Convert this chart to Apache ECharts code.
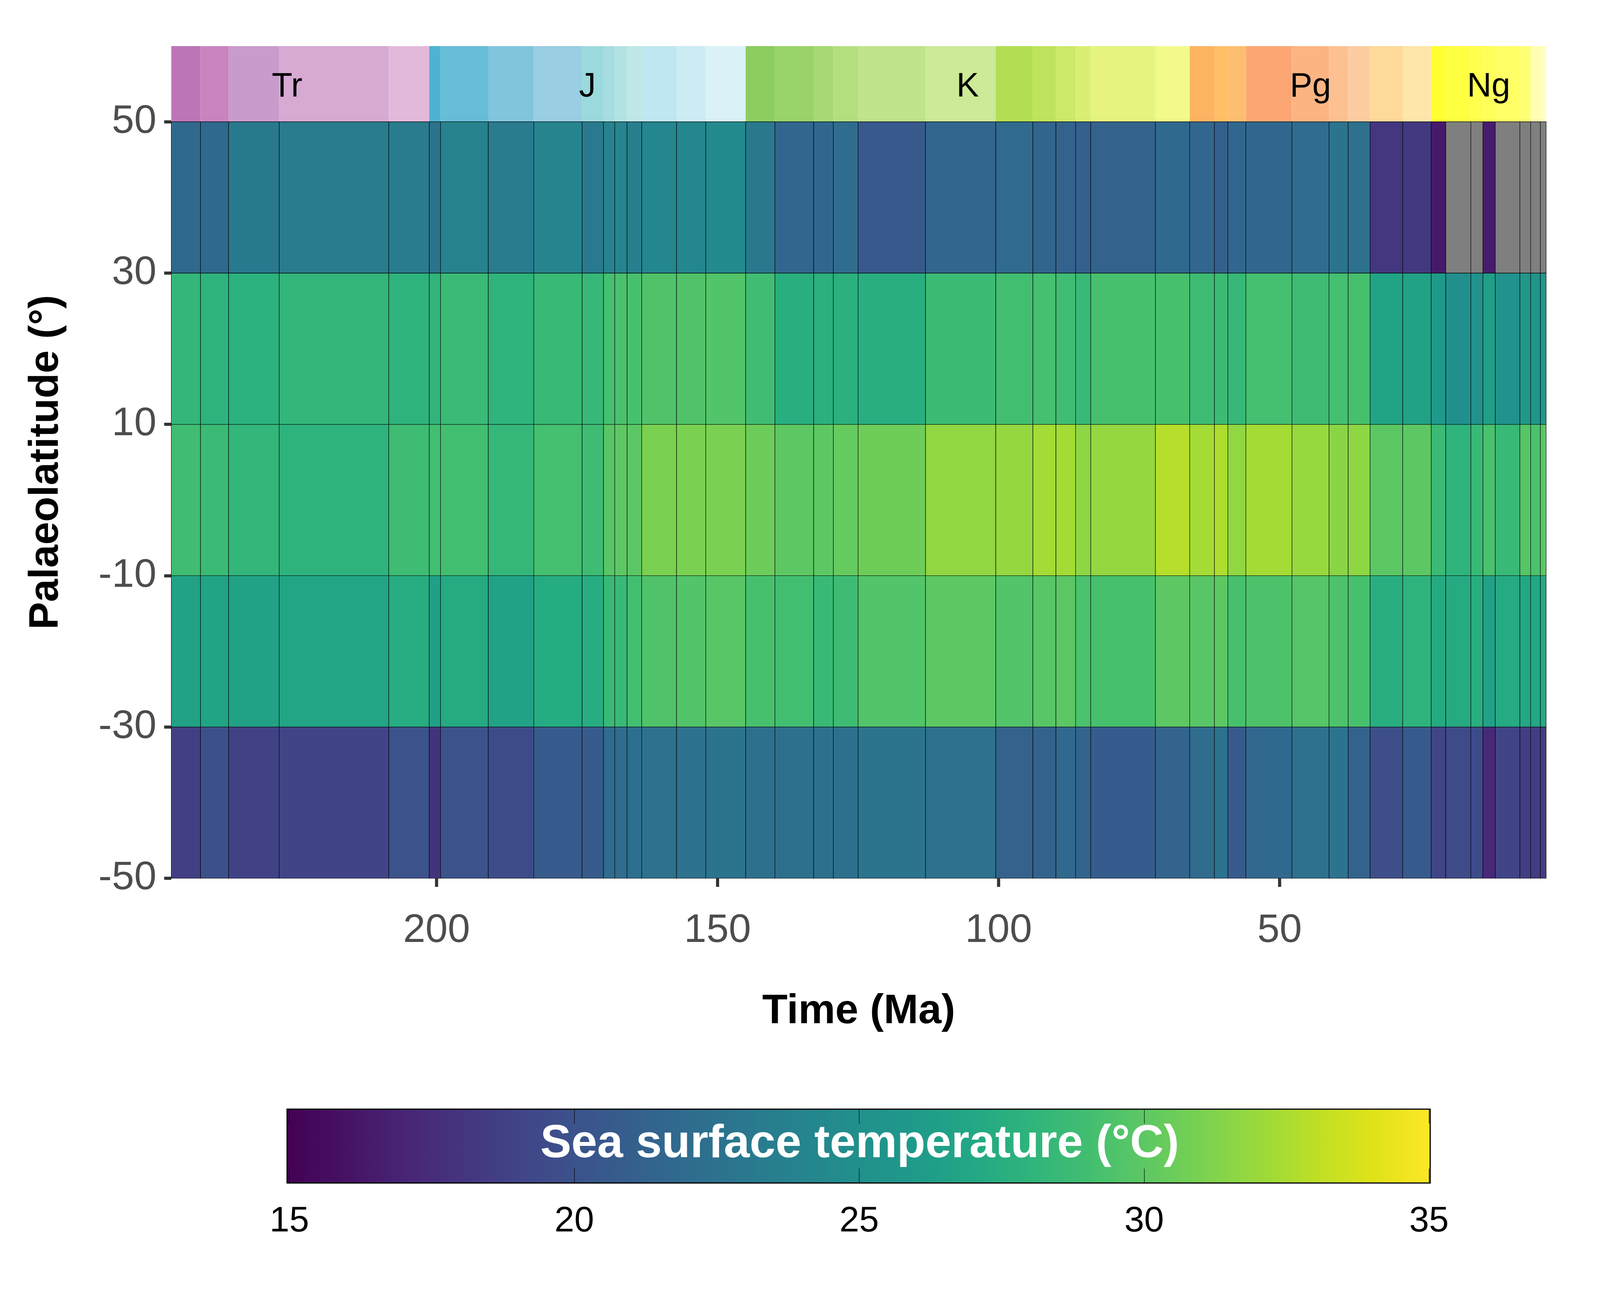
<!DOCTYPE html>
<html>
<head>
<meta charset="utf-8">
<style>html,body{margin:0;padding:0;background:#fff;overflow:hidden}#c{width:100vw;height:100vh}</style>
<script src="https://cdn.jsdelivr.net/npm/echarts@6/dist/echarts.min.js"></script>
</head>
<body>
<div id="c"></div>
<script>
// Stage boundaries (Ma), oldest to youngest
const stageEdges = [247.2,242,237,228,208.5,201.3,199.3,190.8,182.7,174.1,170.3,168.3,166.1,163.5,157.3,152.1,145,139.8,132.9,129.4,125,113,100.5,93.9,89.8,86.3,83.6,72.1,66,61.6,59.2,56,47.8,41.2,37.8,33.9,28.1,23.03,20.44,15.97,13.82,11.63,7.25,5.333,3.6,2.58];
const stageColors = ['#BC75B7','#C983BF','#C99BCB','#D6AAD3','#E3B9DB','#4EB3D3','#67BCD8','#80C5DD','#99CEE3','#9AD9DD','#A6DDE0','#B3E2E3','#BFE7E5','#BFE7F1','#CCECF4','#D9F1F7','#8CCD60','#99D36A','#A6D975','#B3DF7F','#BFE48A','#CCEA97','#B3DE53','#BFE35D','#CCE968','#D9EF74','#E6F47F','#F2FA8C','#FDB462','#FEBF65','#FDBF6F','#FCA773','#FCB482','#FDC091','#FDCDA1','#FED99A','#FEE6AA','#FFFF33','#FFFF41','#FFFF4D','#FFFF59','#FFFF66','#FFFF73','#FFFFB3','#FFFFBF'];
// Periods
const periodNames = ['Tr','J','K','Pg','Ng'];
const periodStart = [251.9,201.3,145,66,23.03];
const periodEnd = [201.3,145,66,23.03,2.58];
// Latitude band edges
const latEdges = [-50,-30,-10,10,30,50];
// Sea surface temperature per stage, one array per latitude band (null = no data)
const sstS50 = [18.7,19.9,18.9,19,20,17.9,20,19.6,20.7,20.7,22,22,22.2,22.4,22.5,22.6,22.3,22.3,22.3,22.3,22.7,22.4,21.2,21.3,21.7,21.4,20.8,21.4,22,22.5,20.5,21.7,22.4,22.7,21.3,19.7,20.6,19,19.5,19.5,17.3,19,18.6,18.5,18.5];
const sstS30 = [26.6,26.7,26.6,26.8,27.4,26.4,27.2,26.6,27.3,27.4,28.5,28.5,29,29.5,29.6,29.8,29.2,29,28.5,28.8,29.6,30,29.6,29.8,29.9,29.3,29.2,30,29.8,30,29.2,29.4,29.7,29.4,29.2,27.5,27.9,27.2,27.2,27.5,26.5,27.2,27,27,27.1];
const sstEq = [28.9,28.6,28.2,27.9,28.8,29,29,28.3,29.1,28.8,29.8,30,29.9,31,31,31,30.5,30,30,30.3,30.6,31.7,31.8,32.3,32.3,31.6,31.8,32.8,32.3,32.6,31.7,32.3,31.9,31.5,31.6,29.9,30,28.6,28,28.5,29.3,28.5,29.7,29.3,29.9];
const sstN30 = [28.2,27.9,27.8,28.2,27.9,28.1,28.6,28,28.5,28.4,29.1,29.3,29.2,29.5,29.5,29.6,28.9,27.5,27.7,27.7,27.5,28.7,29,29.1,28.9,28.5,29.2,29.2,28.8,28.7,28.4,29.1,28.8,29.1,29.2,26.7,26.6,26,25,25.2,26.3,25.2,25.8,25.5,25.8];
const sstN50 = [21.8,21.8,23.1,23.3,23.3,22.6,23.9,23.3,24,23.2,23.9,24,23.6,24.2,24.2,24.5,23,21.5,21.6,22,20.5,21.5,21.9,21.4,21.3,21,21.3,21.8,21.5,21.1,21.6,21.6,22,22.6,22.4,18.1,18.3,16.4,null,null,16.5,null,null,null,null];
// Axis ticks
const ageTicks = [200,150,100,50];
const latTicks = [-50,-30,-10,10,30,50];
const sstTicks = [15,20,25,30,35];
const sstLimits = [15,35];
const barExtent = [14.96,35.02];
const stripLat = [50,60];
const stripLabelLat = 54.55;
const viridis = ['#440154','#482475','#414487','#3B528B','#355F8D','#2F6C8E','#2A788E','#25848E','#21908C','#1F9A8A','#22A884','#2FB47C','#42BE71','#5DC863','#7AD151','#9AD93C','#BDDF26','#DFE318','#FDE725'];
const viridisAt = [0,0.1,0.2,0.25,0.3,0.35,0.4,0.45,0.5,0.55,0.6,0.65,0.7,0.75,0.8,0.85,0.9,0.95,1];

const FONT = 'Liberation Sans';
const bands = [sstS50,sstS30,sstEq,sstN30,sstN50];

// The layout was measured on a 4960x3307 reference. The browser window may be
// clamped narrower (observed: 4096 wide), so positions follow the real window.
const W = window.innerWidth, H = window.innerHeight;
const sx = W/4960, sy = H/3307, fs = Math.sqrt(sx*sy);
const X = v => v*sx, Y = v => v*sy, F = v => v*fs;
// keeps a label's centre in place when its font shrinks
const recentre = size => (size - F(size))/2;

function colourOf(v){
  const t = Math.max(0,Math.min(1,(v-sstLimits[0])/(sstLimits[1]-sstLimits[0])));
  let i = 0;
  while(i < viridisAt.length-2 && t > viridisAt[i+1]) i++;
  const f = (t-viridisAt[i])/(viridisAt[i+1]-viridisAt[i]);
  return echarts.color.lerp(f,[viridis[i],viridis[i+1]]);
}

const cells = [];
bands.forEach((vals,j)=>vals.forEach((v,i)=>{
  cells.push([stageEdges[i],stageEdges[i+1],latEdges[j],latEdges[j+1],v===null?NaN:v]);
}));
const stripCells = stageColors.map((c,i)=>[stageEdges[i],stageEdges[i+1]]);
const periodLabels = periodNames.map((n,i)=>[(periodStart[i]+periodEnd[i])/2,stripLabelLat]);

function rectFrom(api){
  const a = api.coord([api.value(0),api.value(3)]);
  const b = api.coord([api.value(1),api.value(2)]);
  return {x:Math.min(a[0],b[0]),y:Math.min(a[1],b[1]),width:Math.abs(a[0]-b[0]),height:Math.abs(a[1]-b[1])};
}

const stops = viridis.map((c,i)=>({offset:(sstLimits[0]+viridisAt[i]*(sstLimits[1]-sstLimits[0])-barExtent[0])/(barExtent[1]-barExtent[0]),color:c}));

const option = {
  animation:false,
  backgroundColor:'#ffffff',
  textStyle:{fontFamily:FONT},
  title:[{
    text:'Sea surface temperature (°C)',
    left:X(2659), top:Y(2859)+recentre(131), textAlign:'center',
    textStyle:{color:'#ffffff',fontFamily:FONT,fontWeight:'bold',fontSize:F(131)}
  }],
  grid:[
    {left:X(531),top:Y(118),width:X(4262),height:Y(2130),containLabel:false},
    {left:X(897),top:Y(2839),width:X(3533),height:Y(189),containLabel:false}
  ],
  xAxis:[
    {gridIndex:0,type:'value',inverse:true,min:stageEdges[stageEdges.length-1],max:stageEdges[0],
     name:'Time (Ma)',nameLocation:'middle',nameGap:Y(283)+recentre(117),
     nameTextStyle:{fontFamily:FONT,fontWeight:'bold',fontSize:F(117),color:'#000'},
     axisLine:{show:false},splitLine:{show:false},
     // axisTick.customValues drops its marks on an inverse axis, so these ticks come from the 'age ticks' series
     axisTick:{show:false},
     axisLabel:{show:true,fontFamily:FONT,fontSize:F(113),color:'#4D4D4D',margin:Y(78)+recentre(113),customValues:ageTicks,formatter:v=>String(v)}},
    {gridIndex:1,type:'value',min:sstLimits[0],max:sstLimits[1],position:'bottom',z:10,
     axisLine:{show:false},splitLine:{show:false},
     axisTick:{show:true,inside:true,length:Y(37),lineStyle:{color:'#000',width:1.2},customValues:sstTicks},
     axisLabel:{show:true,fontFamily:FONT,fontSize:F(100),color:'#000',margin:Y(49)+recentre(100),customValues:sstTicks,formatter:v=>String(v)}},
    {gridIndex:1,type:'value',min:sstLimits[0],max:sstLimits[1],position:'top',z:10,
     axisLine:{show:false},splitLine:{show:false},
     axisTick:{show:true,inside:true,length:Y(37),lineStyle:{color:'#000',width:1.2},customValues:sstTicks},
     axisLabel:{show:false}}
  ],
  yAxis:[
    {gridIndex:0,type:'value',min:latEdges[0],max:stripLat[1],
     name:'Palaeolatitude (°)',nameLocation:'middle',nameRotate:90,nameGap:X(324),
     nameTextStyle:{fontFamily:FONT,fontWeight:'bold',fontSize:F(116),color:'#000'},
     axisLine:{show:false},splitLine:{show:false},
     axisTick:{show:true,length:X(22),lineStyle:{color:'#333333',width:8},customValues:latTicks},
     axisLabel:{show:true,fontFamily:FONT,fontSize:F(113),color:'#4D4D4D',margin:X(46),customValues:latTicks,formatter:v=>String(v)}},
    {gridIndex:1,type:'value',min:0,max:1,show:false}
  ],
  series:[
    {type:'custom',name:'stages',xAxisIndex:0,yAxisIndex:0,z:2,clip:false,silent:true,
     data:stripCells,encode:{x:[0,1]},
     renderItem:(p,api)=>{
       const a=api.coord([api.value(0),stripLat[1]]), b=api.coord([api.value(1),stripLat[0]]);
       return {type:'rect',shape:{x:Math.min(a[0],b[0]),y:a[1],width:Math.abs(a[0]-b[0]),height:b[1]-a[1]},
               style:{fill:stageColors[p.dataIndex]}};
     }},
    {type:'custom',name:'Sea surface temperature',xAxisIndex:0,yAxisIndex:0,z:3,clip:false,silent:true,
     data:cells,encode:{x:[0,1],y:[2,3]},
     renderItem:(p,api)=>{
       const v=api.value(4);
       return {type:'rect',shape:rectFrom(api),
               style:{fill:isNaN(v)?'#7F7F7F':colourOf(v),stroke:'#000000',lineWidth:1.1}};
     }},
    {type:'custom',name:'periods',xAxisIndex:0,yAxisIndex:0,z:4,clip:false,silent:true,
     data:periodLabels,encode:{x:0,y:1},
     renderItem:(p,api)=>{
       const a=api.coord([api.value(0),api.value(1)]);
       return {type:'text',x:a[0],y:a[1],
               style:{text:periodNames[p.dataIndex],fontFamily:FONT,fontSize:F(95),fill:'#000',align:'center',verticalAlign:'middle'}};
     }},
    {type:'custom',name:'age ticks',xAxisIndex:0,yAxisIndex:0,z:4,clip:false,silent:true,
     data:ageTicks.map(a=>[a]),encode:{x:0},
     renderItem:(p,api)=>{
       const a=api.coord([api.value(0),latEdges[0]]);
       return {type:'line',shape:{x1:a[0],y1:a[1],x2:a[0],y2:a[1]+Y(22)},
               style:{stroke:'#333333',lineWidth:8}};
     }},
    {type:'custom',name:'colourbar',xAxisIndex:1,yAxisIndex:1,z:1,clip:false,silent:true,
     data:[[barExtent[0],barExtent[1]]],encode:{x:[0,1]},
     renderItem:(p,api)=>{
       const a=api.coord([api.value(0),1]), b=api.coord([api.value(1),0]);
       return {type:'rect',shape:{x:a[0],y:a[1],width:b[0]-a[0],height:b[1]-a[1]},
               style:{fill:new echarts.graphic.LinearGradient(0,0,1,0,stops),stroke:'#000',lineWidth:3}};
     }}
  ]
};
const chart = echarts.init(document.getElementById('c'),null,{renderer:'canvas',width:W,height:H,devicePixelRatio:1});
chart.setOption(option);
</script>
</body>
</html>
